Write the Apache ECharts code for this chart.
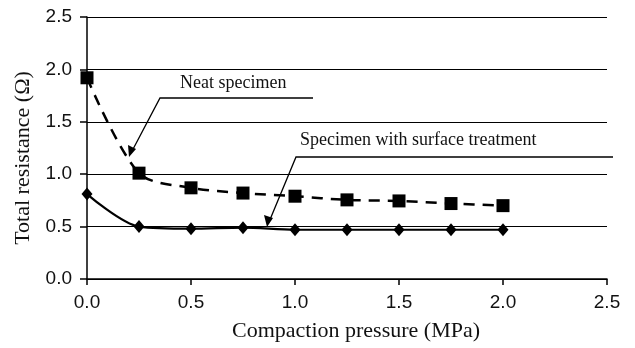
<!DOCTYPE html>
<html>
<head>
<meta charset="utf-8">
<script src="https://cdn.jsdelivr.net/npm/echarts@6/dist/echarts.min.js"></script>
<style>
  html, body { margin: 0; padding: 0; background: #fff; }
  #chart { width: 635px; height: 348px; }
</style>
</head>
<body>
<div id="chart"></div>
<script>
// pressure steps (MPa)
const pressure = [0, 0.25, 0.5, 0.75, 1.0, 1.25, 1.5, 1.75, 2.0];
// total resistance (ohm)
const neat = [1.92, 1.01, 0.87, 0.82, 0.79, 0.755, 0.745, 0.72, 0.70];
const treated = [0.81, 0.50, 0.48, 0.49, 0.47, 0.47, 0.47, 0.47, 0.47];
const xTicks = ['0.0', '0.5', '1.0', '1.5', '2.0', '2.5'];
const yTicks = ['0.0', '0.5', '1.0', '1.5', '2.0', '2.5'];

const serif = '"Liberation Serif", "DejaVu Serif", serif';
const sans = '"Liberation Sans", Arial, sans-serif';

const chart = echarts.init(document.getElementById('chart'));

const pairs = (ys) => pressure.map((x, i) => [x, ys[i]]);

chart.setOption({
  animation: false,
  grid: { left: 87, right: 28, top: 17, bottom: 69, containLabel: false },
  xAxis: {
    type: 'value',
    min: 0,
    max: 2.5,
    interval: 0.5,
    name: 'Compaction pressure (MPa)',
    nameLocation: 'middle',
    nameGap: 41,
    nameTextStyle: { fontFamily: serif, fontSize: 22, color: '#111', padding: [0, 0, 0, 18] },
    axisLine: { lineStyle: { color: '#000', width: 1.5 } },
    axisTick: { show: true, length: 6, lineStyle: { color: '#000', width: 1.5 } },
    axisLabel: {
      color: '#111', fontFamily: sans, fontSize: 19, margin: 14,
      formatter: (v) => xTicks[Math.round(v / 0.5)]
    },
    splitLine: { show: false }
  },
  yAxis: {
    type: 'value',
    min: 0,
    max: 2.5,
    interval: 0.5,
    name: 'Total resistance (Ω)',
    nameLocation: 'middle',
    nameGap: 51,
    nameTextStyle: { fontFamily: serif, fontSize: 22, color: '#111', padding: [0, 20, 0, 0] },
    axisLine: { show: true, lineStyle: { color: '#000', width: 1.5 } },
    axisTick: { show: true, length: 7, lineStyle: { color: '#000', width: 1.5 } },
    axisLabel: {
      color: '#111', fontFamily: sans, fontSize: 19, margin: 15,
      formatter: (v) => yTicks[Math.round(v / 0.5)]
    },
    splitLine: { show: true, lineStyle: { color: '#000', width: 1.2 } }
  },
  series: [
    {
      name: 'Neat specimen',
      type: 'line',
      data: pairs(neat),
      smooth: 0.3,
      symbol: 'rect',
      symbolSize: 13,
      itemStyle: { color: '#000' },
      lineStyle: { color: '#000', width: 2.5, type: [11, 8] }
    },
    {
      name: 'Specimen with surface treatment',
      type: 'line',
      data: pairs(treated),
      smooth: 0.3,
      symbol: 'diamond',
      symbolSize: [11, 13],
      itemStyle: { color: '#000' },
      lineStyle: { color: '#000', width: 2.2 }
    }
  ],
  graphic: [
    {
      type: 'text',
      left: 180, top: 74,
      style: { text: 'Neat specimen', font: '18px ' + serif, fill: '#111' }
    },
    {
      type: 'polyline',
      shape: { points: [[313, 98], [160, 98], [131, 153]] },
      style: { stroke: '#000', lineWidth: 1.3, fill: null }
    },
    {
      type: 'polygon',
      shape: { points: [[129, 157], [128, 145], [136, 149]] },
      style: { fill: '#000' }
    },
    {
      type: 'text',
      left: 300, top: 131,
      style: { text: 'Specimen with surface treatment', font: '18px ' + serif, fill: '#111' }
    },
    {
      type: 'polyline',
      shape: { points: [[613, 157], [296, 157], [269, 222]] },
      style: { stroke: '#000', lineWidth: 1.3, fill: null }
    },
    {
      type: 'polygon',
      shape: { points: [[267, 227], [264, 215], [273, 218]] },
      style: { fill: '#000' }
    }
  ]
});
</script>
</body>
</html>
